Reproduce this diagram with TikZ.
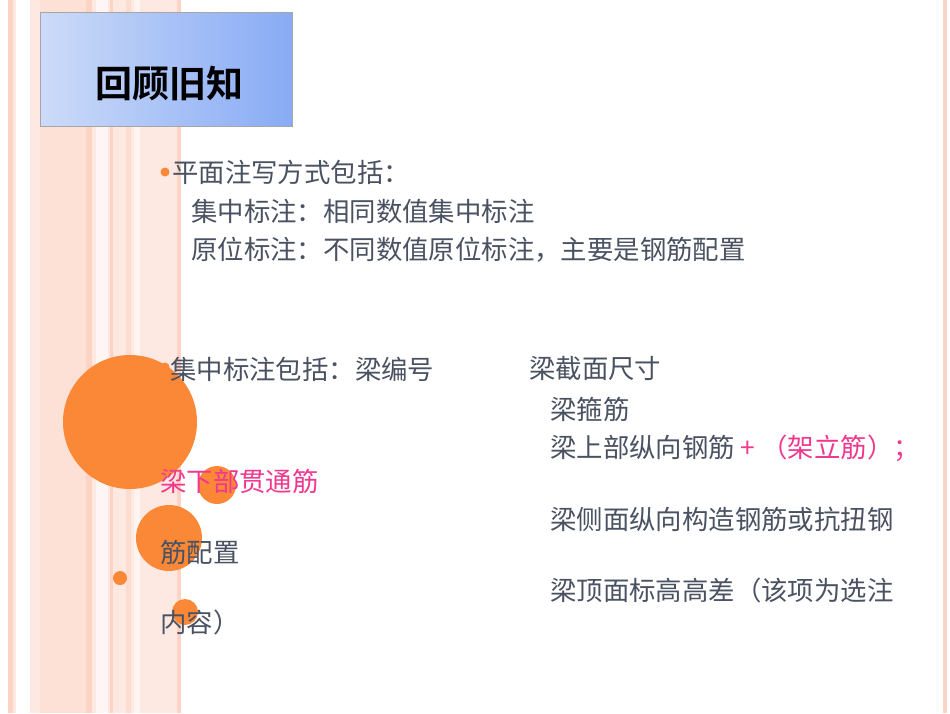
\documentclass[tikz,border=0pt]{standalone}
\usepackage{fontspec}
\newfontfamily\cjk{Noto Sans CJK SC}
\newfontfamily\cjkb{Noto Sans CJK SC Bold}
\definecolor{txt}{HTML}{4A5262}
\definecolor{org}{HTML}{FB8836}
\definecolor{pnk}{HTML}{F0388F}
\definecolor{str}{HTML}{FCD3C4}
\definecolor{strl}{HTML}{FDE9E2}
\definecolor{tl}{HTML}{CCDBF8}
\definecolor{tr}{HTML}{88ABF5}
\begin{document}
\begin{tikzpicture}[x=1pt,y=-1pt,
  t/.style={anchor=west,inner sep=0pt,font=\cjk\fontsize{26.4}{26.4}\selectfont,text=txt},
  dot/.style={circle,fill=org,inner sep=0pt}]
\useasboundingbox (0,0) rectangle (950,713);
\fill[white] (0,0) rectangle (950,713);
% stripes
\fill[strl] (8,0) rectangle (180,713);
\fill[str] (8,0) rectangle (13,713);
\fill[white] (16,0) rectangle (30,713);
\fill[str!70] (40,0) rectangle (88,713);
\fill[str] (86,0) rectangle (92,713);
\fill[white!60!strl] (96,0) rectangle (108,713);
\fill[str] (110,0) rectangle (113,713);
\fill[str!80] (126,0) rectangle (131,713);
\fill[white!50!strl] (134,0) rectangle (140,713);
\fill[str] (177,0) rectangle (181,713);
\fill[str] (943,0) rectangle (947,713);
% title
\shade[left color=tl, right color=tr, draw=gray!70]
  (40,12) rectangle (292,126);
\node[font=\cjkb\fontsize{37}{37}\selectfont] (title) at (169,84) {回顾旧知};
% circles
\node[dot,minimum size=134pt] (c1) at (130,422) {};
\node[dot,minimum size=38pt] (c2) at (217,485) {};
\node[dot,minimum size=66pt] (c3) at (169,538) {};
\node[dot,minimum size=14pt] (c4) at (120,578) {};
\node[dot,minimum size=26pt] (c5) at (185,612) {};
\node[dot,minimum size=9pt] (b1) at (165,172) {};
\node[dot,minimum size=9pt] (b2) at (165,367) {};
% text
\node[t] (l1) at (172,172) {平面注写方式包括：};
\node[t] (l2) at (191,211) {集中标注：相同数值集中标注};
\node[t] (l3) at (191,250) {原位标注：不同数值原位标注，主要是钢筋配置};
\node[t] (l4) at (170,369) {集中标注包括：梁编号};
\node[t] (l5) at (529,369) {梁截面尺寸};
\node[t] (l6) at (550,409) {梁箍筋};
\node[t] (l7) at (550,448) {梁上部纵向钢筋 \textcolor{pnk}{+ （架立筋）；}};
\node[t,text=pnk] (l8) at (160,481) {梁下部贯通筋};
\node[t] (l9) at (550,519) {梁侧面纵向构造钢筋或抗扭钢};
\node[t] (l10) at (160,552) {筋配置};
\node[t] (l11) at (550,590) {梁顶面标高高差（该项为选注};
\node[t] (l12) at (160,622) {内容）};
\end{tikzpicture}
\end{document}
